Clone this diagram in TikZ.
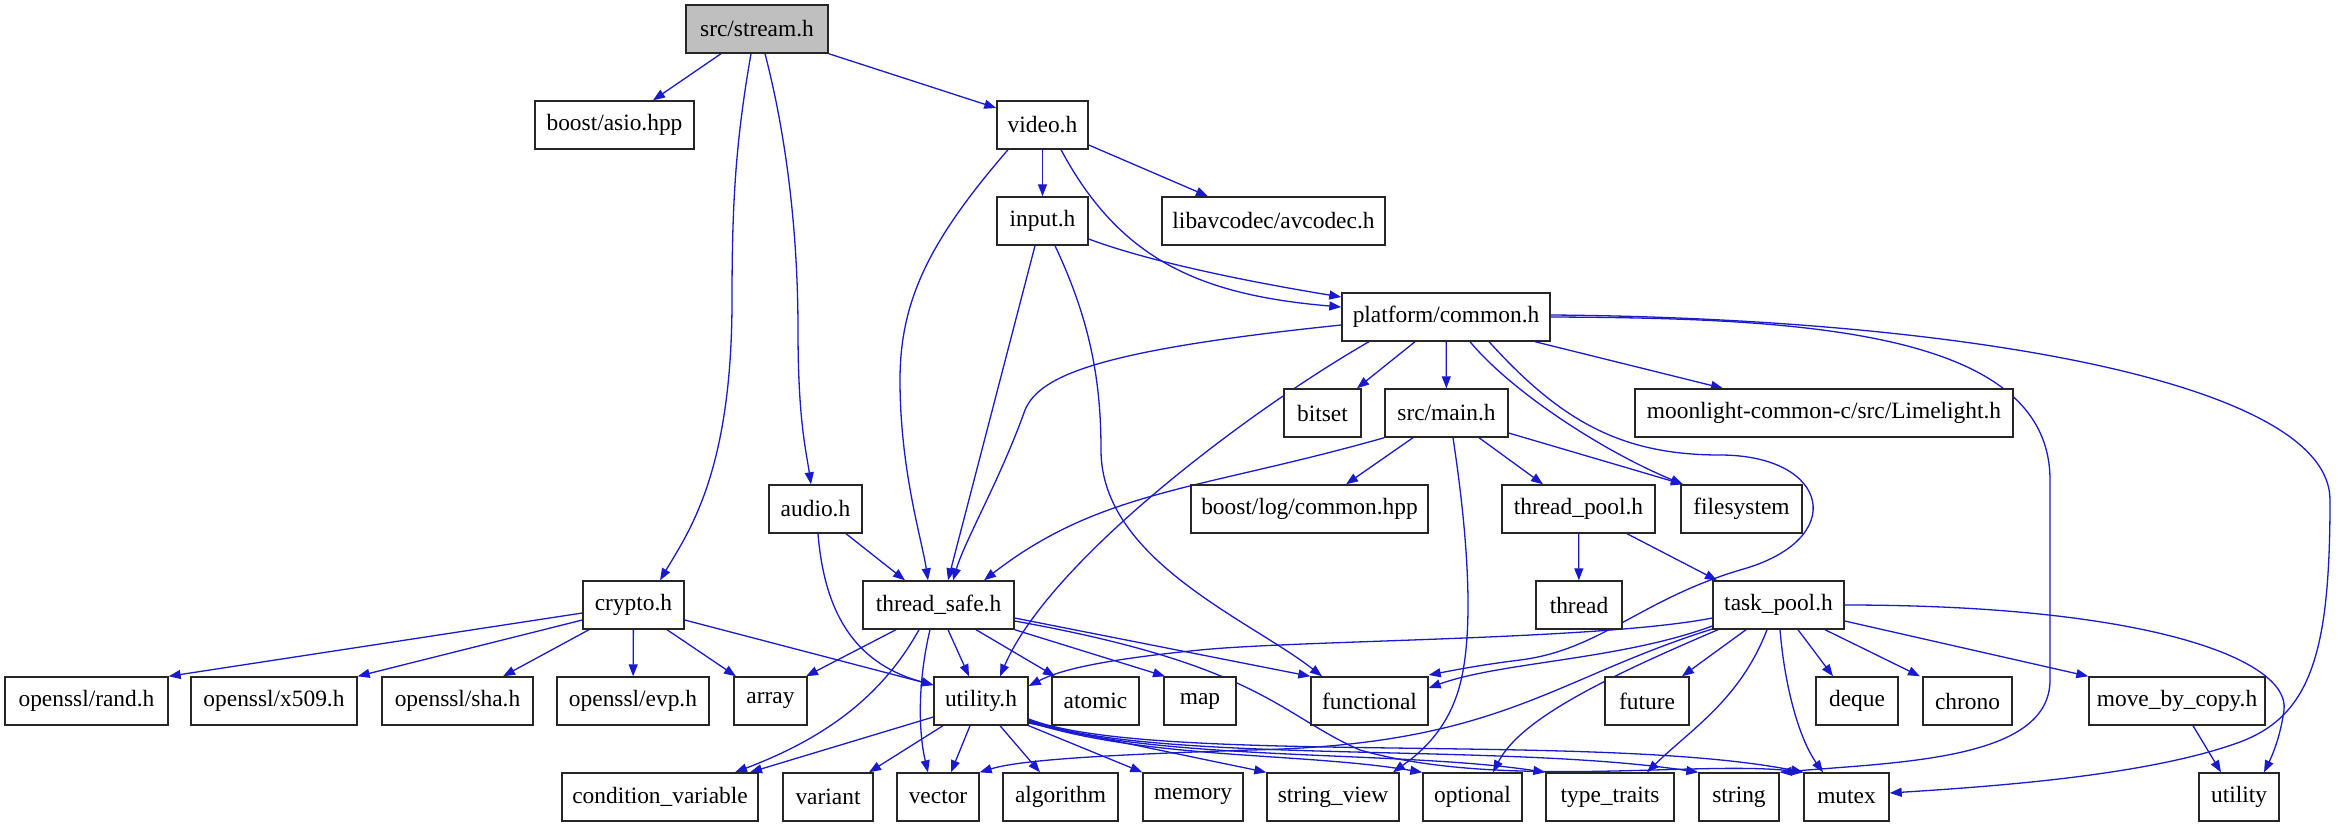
\documentclass[tikz,border=0pt]{standalone}
\usepackage{fontspec}
\setmainfont{Liberation Serif}
\usetikzlibrary{arrows.meta,backgrounds}
\definecolor{EdgeBlue}{RGB}{25,25,205}
\definecolor{RootGray}{RGB}{191,191,191}

\begin{document}
\begin{tikzpicture}[x=1pt, y=-1pt,
	hdr/.style={draw=black!85, line width=1.4pt, fill=white, rectangle, inner sep=0pt,
		minimum height=48pt, font=\fontsize{23.4}{28}\selectfont},
	dep/.style={draw=EdgeBlue, line width=1.3pt, -{Triangle[length=12pt,width=9pt]}}]
		\useasboundingbox (0,0) rectangle (2345,827);
		
		% rang 0 -- 2
		\node[hdr, fill=RootGray, minimum width=142pt] (stream) at (757,29) {src/stream.h};
		\node[hdr, minimum width=159pt] (asio) at (614.5,125) {boost/asio.hpp};
		\node[hdr, minimum width=91pt] (video) at (1042.5,125) {video.h};
		\node[hdr, minimum width=91pt] (input) at (1042.5,221) {input.h};
		\node[hdr, minimum width=223pt] (libav) at (1273.5,221) {libavcodec/avcodec.h};
		
		% rang 3 -- 6
		\node[hdr, minimum width=208pt] (platform) at (1446,317) {platform/common.h};
		\node[hdr, minimum width=77pt] (bitset) at (1322.5,413) {bitset};
		\node[hdr, minimum width=123pt] (mainh) at (1446.5,413) {src/main.h};
		\node[hdr, minimum width=378pt] (moonlight) at (1824,413) {moonlight-common-c/src/Limelight.h};
		\node[hdr, minimum width=93pt] (audio) at (815.5,509) {audio.h};
		\node[hdr, minimum width=237pt] (boostlog) at (1309.5,509) {boost/log/common.hpp};
		\node[hdr, minimum width=153pt] (tpool) at (1578.5,509) {thread\_pool.h};
		\node[hdr, minimum width=121pt] (filesys) at (1741.5,509) {filesystem};
		\node[hdr, minimum width=101pt] (crypto) at (633.5,605) {crypto.h};
		\node[hdr, minimum width=151pt] (tsafe) at (938.5,605) {thread\_safe.h};
		\node[hdr, minimum width=86pt] (thread) at (1579,605) {thread};
		\node[hdr, minimum width=131pt] (taskp) at (1778.5,605) {task\_pool.h};
		
		% rang 7
		\node[hdr, minimum width=163pt] (rand) at (86.5,701) {openssl/rand.h};
		\node[hdr, minimum width=166pt] (x509) at (274,701) {openssl/x509.h};
		\node[hdr, minimum width=151pt] (sha) at (457.5,701) {openssl/sha.h};
		\node[hdr, minimum width=152pt] (evp) at (633,701) {openssl/evp.h};
		\node[hdr, minimum width=73pt] (array) at (770.5,701) {array};
		\node[hdr, minimum width=94pt] (utilh) at (981,701) {utility.h};
		\node[hdr, minimum width=87pt] (atomic) at (1095.5,701) {atomic};
		\node[hdr, minimum width=72pt] (map) at (1200,701) {map};
		\node[hdr, minimum width=117pt] (functional) at (1369.5,701) {functional};
		\node[hdr, minimum width=84pt] (future) at (1647,701) {future};
		\node[hdr, minimum width=82pt] (deque) at (1857,701) {deque};
		\node[hdr, minimum width=89pt] (chrono) at (1967.5,701) {chrono};
		\node[hdr, minimum width=176pt] (mbc) at (2177,701) {move\_by\_copy.h};
		
		% rang 8
		\node[hdr, minimum width=196pt] (condvar) at (660,797) {condition\_variable};
		\node[hdr, minimum width=90pt] (variant) at (828,797) {variant};
		\node[hdr, minimum width=82pt] (vector) at (938,797) {vector};
		\node[hdr, minimum width=115pt] (algorithm) at (1060.5,797) {algorithm};
		\node[hdr, minimum width=100pt] (memory) at (1193,797) {memory};
		\node[hdr, minimum width=132pt] (strview) at (1333,797) {string\_view};
		\node[hdr, minimum width=99pt] (optional) at (1472.5,797) {optional};
		\node[hdr, minimum width=128pt] (ttraits) at (1610,797) {type\_traits};
		\node[hdr, minimum width=80pt] (string) at (1739,797) {string};
		\node[hdr, minimum width=85pt] (mutex) at (1846.5,797) {mutex};
		\node[hdr, minimum width=80pt] (utility) at (2239,797) {utility};
		
		\begin{scope}[on background layer]
		% src/stream.h
		\draw[dep] (stream.south -| 721,0) -- (asio.north -| 653,0);
		\draw[dep] (stream.south east) -- (video.west |- 0,108);
		\draw[dep] (stream.south -| 751,0) .. controls (736,140) and (732,200) .. (732,300) .. controls (732,470) and (690,530) .. (crypto.north -| 660,0);
		\draw[dep] (stream.south -| 765,0) .. controls (790,150) and (798,250) .. (798,330) .. controls (798,420) and (806,450) .. (audio.north -| 811,0);
		
		% video.h, input.h
		\draw[dep] (video) -- (input);
		\draw[dep] (video.east |- 0,145) -- (libav.north -| 1208,0);
		\draw[dep] (video.south -| 1061,0) .. controls (1120,260) and (1200,295) .. (platform.west |- 0,307);
		\draw[dep] (video.south -| 1008,0) .. controls (930,240) and (900,300) .. (900,380) .. controls (900,470) and (922,540) .. (tsafe.north -| 928,0);
		\draw[dep] (input.east |- 0,239) .. controls (1150,262) and (1250,282) .. (platform.west |- 0,297);
		\draw[dep] (input.south -| 1035,0) -- (tsafe.north -| 948,0);
		\draw[dep] (input.south -| 1055,0) .. controls (1090,320) and (1101,380) .. (1101,450) .. controls (1101,560) and (1250,620) .. (functional.north -| 1322,0);
		
		% platform/common.h
		\draw[dep] (platform.west |- 0,325) .. controls (1100,350) and (1040,375) .. (1025,410) .. controls (1000,480) and (965,540) .. (tsafe.north -| 953,0);
		\draw[dep] (platform.south -| 1369,0) .. controls (1250,410) and (1050,560) .. (utilh.north -| 1000,0);
		\draw[dep] (platform.south -| 1415,0) -- (bitset.north -| 1357,0);
		\draw[dep] (platform) -- (mainh);
		\draw[dep] (platform.south -| 1470,0) .. controls (1510,390) and (1600,450) .. (filesys.north -| 1683,0);
		\draw[dep] (platform.south -| 1489,0) .. controls (1560,420) and (1620,455) .. (1720,455) .. controls (1830,455) and (1850,540) .. (1740,570) .. controls (1640,600) and (1600,650) .. (1520,660) .. controls (1480,665) and (1455,670) .. (functional.east |- 0,675);
		\draw[dep] (platform.south -| 1535,0) -- (moonlight.north -| 1723,0);
		\draw[dep] (platform.east |- 0,317) .. controls (1800,318) and (2050,330) .. (2050,480) -- (2050,680) .. controls (2050,760) and (1900,762) .. (string.north east);
		\draw[dep] (platform.east |- 0,315) .. controls (1950,318) and (2330,380) .. (2330,500) .. controls (2330,650) and (2312,715) .. (2240,742) .. controls (2150,775) and (2000,786) .. (mutex.east |- 0,793);
		
		% src/main.h
		\draw[dep] (mainh.south west) .. controls (1200,490) and (1100,490) .. (tsafe.north -| 984,0);
		\draw[dep] (mainh.south -| 1413,0) -- (boostlog.north -| 1346,0);
		\draw[dep] (mainh.south -| 1479,0) -- (tpool.north -| 1543,0);
		\draw[dep] (mainh.east |- 0,433) -- (filesys.north -| 1683,0);
		\draw[dep] (mainh.south -| 1453,0) .. controls (1470,550) and (1475,650) .. (1455,700) .. controls (1440,740) and (1410,760) .. (strview.north -| 1393,0);
		
		% audio.h, crypto.h
		\draw[dep] (audio.south -| 846,0) -- (tsafe.north -| 905,0);
		\draw[dep] (audio.south -| 818,0) .. controls (825,620) and (860,665) .. (utilh.west |- 0,685);
		\draw[dep] (crypto.west |- 0,613) -- (rand.north east);
		\draw[dep] (crypto.west |- 0,620) -- (x509.north east);
		\draw[dep] (crypto.south -| 589,0) -- (sha.north -| 503,0);
		\draw[dep] (crypto) -- (evp);
		\draw[dep] (crypto.south -| 667,0) -- (array.north -| 736,0);
		\draw[dep] (crypto.east |- 0,620) -- (utilh.west |- 0,685);
		
		% thread_safe.h
		\draw[dep] (tsafe.south -| 896,0) -- (array.north -| 806,0);
		\draw[dep] (tsafe.south -| 919,0) .. controls (880,700) and (820,740) .. (condvar.north -| 735,0);
		\draw[dep] (tsafe.south -| 930,0) .. controls (918,680) and (918,730) .. (vector.north -| 928,0);
		\draw[dep] (tsafe.south -| 948,0) -- (utilh.north -| 969,0);
		\draw[dep] (tsafe.south -| 976,0) -- (atomic.north -| 1055,0);
		\draw[dep] (tsafe.south east) -- (map.north -| 1165,0);
		\draw[dep] (tsafe.east |- 0,618) -- (functional.north west);
		\draw[dep] (tsafe.east |- 0,621) .. controls (1260,665) and (1280,715) .. (1360,750) .. controls (1500,790) and (1700,760) .. (mutex.north west);
		
		% utility.h
		\draw[dep] (utilh.west |- 0,717) -- (condvar.north -| 750,0);
		\draw[dep] (utilh.south -| 943,0) -- (variant.north -| 869,0);
		\draw[dep] (utilh.south -| 970,0) -- (vector.north -| 951,0);
		\draw[dep] (utilh.south -| 1000,0) -- (algorithm.north -| 1040,0);
		\draw[dep] (utilh.south east) -- (memory.north west);
		\draw[dep] (utilh.east |- 0,723) -- (strview.north west);
		\draw[dep] (utilh.east |- 0,722) .. controls (1150,760) and (1300,752) .. (optional.north west);
		\draw[dep] (utilh.east |- 0,721) .. controls (1150,762) and (1400,750) .. (ttraits.north west);
		\draw[dep] (utilh.east |- 0,720) .. controls (1150,765) and (1500,742) .. (string.north west);
		\draw[dep] (utilh.east |- 0,719) .. controls (1150,766) and (1600,732) .. (mutex.north west);
		
		% thread_pool.h, task_pool.h
		\draw[dep] (tpool) -- (thread);
		\draw[dep] (tpool.south -| 1627,0) -- (taskp.north -| 1717,0);
		\draw[dep] (taskp.west |- 0,618) .. controls (1600,640) and (1300,640) .. (1200,650) .. controls (1100,660) and (1060,670) .. (utilh.east |- 0,686);
		\draw[dep] (taskp.west |- 0,626) .. controls (1620,660) and (1500,662) .. (functional.east |- 0,688);
		\draw[dep] (taskp.west |- 0,629) .. controls (1550,680) and (1500,745) .. (1250,750) .. controls (1100,755) and (1020,760) .. (vector.north east);
		\draw[dep] (taskp.south -| 1718,0) .. controls (1600,680) and (1520,720) .. (optional.north -| 1493,0);
		\draw[dep] (taskp.south -| 1746,0) -- (future.north -| 1682,0);
		\draw[dep] (taskp.south -| 1767,0) .. controls (1740,700) and (1690,730) .. (ttraits.north -| 1647,0);
		\draw[dep] (taskp.south -| 1780,0) .. controls (1785,690) and (1800,740) .. (mutex.north -| 1823,0);
		\draw[dep] (taskp.south -| 1798,0) -- (deque.north -| 1833,0);
		\draw[dep] (taskp.south -| 1825,0) -- (chrono.north -| 1920,0);
		\draw[dep] (taskp.east |- 0,621) -- (mbc.north west);
		\draw[dep] (taskp.east |- 0,605) .. controls (2150,605) and (2290,660) .. (2284,710) .. controls (2280,740) and (2270,760) .. (utility.north -| 2264,0);
		\draw[dep] (mbc.south -| 2193,0) -- (utility.north -| 2221,0);
		\end{scope}
	\end{tikzpicture}
\end{document}
